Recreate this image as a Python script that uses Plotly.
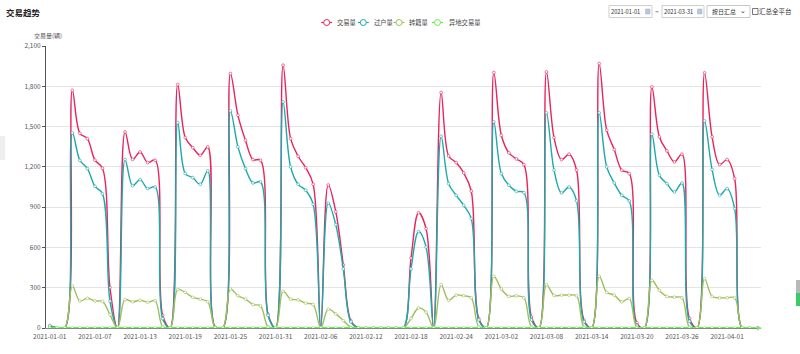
import plotly.graph_objects as go
import pandas as pd

dates = pd.date_range("2021-01-01", periods=95, freq="D").strftime("%Y-%m-%d").tolist()

jiaoyi = [15, 0, 0, 1770, 1450, 1410, 1250, 1190, 300, 0,
          1460, 1256, 1311, 1232, 1249, 94, 0,
          1813, 1418, 1343, 1286, 1348, 5, 0,
          1895, 1584, 1398, 1254, 1249, 102, 0,
          1957, 1410, 1279, 1194, 1070, 0, 1065,
          866, 470, 55, 0, 0, 0, 0, 0, 0, 0,
          520, 858, 740, 0,
          1753, 1281, 1232, 1155, 1020, 70, 0,
          1902, 1435, 1304, 1259, 1217, 82, 0,
          1907, 1418, 1254, 1294, 1175, 57, 0,
          1969, 1473, 1329, 1175, 1150, 40, 0,
          1795, 1423, 1319, 1237, 1294, 70, 0,
          1900, 1423, 1217, 1254, 1112, 0, 0, 0]

guohu = [18, 0, 0, 1453, 1249, 1187, 1055, 1000, 200, 0,
         1254, 1060, 1105, 1038, 1050, 70, 0,
         1530, 1150, 1120, 1070, 1170, 5, 0,
         1617, 1349, 1187, 1080, 1088, 95, 0,
         1684, 1199, 1070, 1026, 921, 0, 930,
         770, 440, 45, 0, 0, 0, 0, 0, 0, 0,
         440, 718, 603, 0,
         1428, 1075, 988, 914, 815, 60, 0,
         1535, 1150, 1063, 1018, 1008, 60, 0,
         1602, 1175, 1006, 1050, 946, 45, 0,
         1602, 1199, 1080, 988, 946, 20, 0,
         1443, 1137, 1075, 1013, 1080, 50, 0,
         1542, 1180, 988, 1038, 889, 0, 0, 0]

zhuanji = [3, 0, 0, 313, 201, 221, 201, 198, 100, 0,
           211, 195, 207, 192, 203, 10, 0,
           286, 265, 228, 215, 195, 0, 0,
           290, 240, 215, 175, 165, 10, 0,
           273, 215, 210, 185, 175, 0, 140,
           105, 55, 5, 0, 0, 0, 0, 0, 0, 0,
           70, 149, 118, 0,
           323, 206, 245, 240, 225, 10, 0,
           385, 290, 236, 240, 225, 10, 0,
           323, 243, 245, 245, 240, 5, 0,
           385, 265, 245, 195, 220, 5, 0,
           355, 280, 235, 230, 225, 5, 0,
           368, 235, 225, 225, 225, 0, 0, 0]

yidi = [0] * 95

series_names = ["交易量", "过户量", "转籍量", "异地交易量"]
series_values = [jiaoyi, guohu, zhuanji, yidi]
colors = ["#e8245c", "#1ea8aa", "#9fbf5a", "#62f046"]
widths = [1.4, 1.4, 1.4, 2.2]

tick_dates = dates[0:91:6]
y_ticks = [0, 300, 600, 900, 1200, 1500, 1800, 2100]

L, R, T, B = 46, 761, 46, 328
W, H = R - L, B - T


def px(x):
    return (x - L) / W


def py(y):
    return (B - y) / H


FONT = "Noto Sans CJK SC, Noto Sans, sans-serif"

fig = go.Figure()
for name, vals, c, w in zip(series_names, series_values, colors, widths):
    fig.add_trace(go.Scatter(
        x=dates, y=vals, name=name, mode="lines+markers",
        line=dict(color=c, width=w, shape="spline", smoothing=1.0),
        marker=dict(symbol="circle", size=2.8, color="white",
                    line=dict(color=c, width=0.6)),
        cliponaxis=True,
    ))

fig.update_layout(
    width=800, height=354,
    margin=dict(l=L, r=800 - R, t=T, b=354 - B, pad=0),
    paper_bgcolor="white", plot_bgcolor="white",
    showlegend=False,
    font=dict(family=FONT, size=6.5, color="#555"),
    xaxis=dict(
        type="date",
        range=["2020-12-31 12:00", "2021-04-05 12:00"],
        tickvals=tick_dates, ticktext=tick_dates,
        showgrid=False, zeroline=False,
        showline=True, linecolor="#888", linewidth=1,
        layer="below traces",
        ticks="outside", ticklen=2, tickcolor="rgba(0,0,0,0)",
        tickfont=dict(size=6.5, color="#555"),
        fixedrange=True,
    ),
    yaxis=dict(
        range=[0, 2100], tickvals=y_ticks, tickformat=",d",
        showgrid=True, gridcolor="#e4e4e4", gridwidth=1,
        zeroline=False, showline=True, linecolor="#555", linewidth=1,
        ticks="outside", ticklen=3, tickcolor="#555",
        tickfont=dict(size=6.5, color="#555"),
        layer="below traces",
    ),
)

shapes = []
ann = []

# title
ann.append(dict(x=px(4), y=py(12), xref="paper", yref="paper", text="<b>交易趋势</b>",
                showarrow=False, xanchor="left", yanchor="middle",
                font=dict(size=8.5, color="#222", family=FONT)))
# y axis name
ann.append(dict(x=px(32), y=py(35.5), xref="paper", yref="paper", text="交易量(辆)",
                showarrow=False, xanchor="left", yanchor="middle",
                font=dict(size=6, color="#555", family=FONT)))

# legend
leg_cx = [326.7, 363.3, 399, 437.5]
leg_tx = [334.5, 371.5, 407, 446.5]
ly = 22.5
for name, c, cx, tx in zip(series_names, colors, leg_cx, leg_tx):
    shapes.append(dict(type="line", xref="paper", yref="paper",
                       x0=px(cx - 5.5), x1=px(cx + 5.5), y0=py(ly), y1=py(ly),
                       line=dict(color=c, width=1.2)))
    shapes.append(dict(type="circle", xref="paper", yref="paper",
                       x0=px(cx - 3), x1=px(cx + 3), y0=py(ly - 3), y1=py(ly + 3),
                       fillcolor="white", line=dict(color=c, width=1)))
    ann.append(dict(x=px(tx), y=py(ly), xref="paper", yref="paper", text=name,
                    showarrow=False, xanchor="left", yanchor="middle",
                    font=dict(size=6.3, color="#444", family=FONT)))

# date inputs
for x0, x1, txt in [(609, 652, "2021-01-01"), (662, 704, "2021-03-31")]:
    shapes.append(dict(type="rect", xref="paper", yref="paper",
                       x0=px(x0), x1=px(x1), y0=py(17.5), y1=py(5.5),
                       fillcolor="white", line=dict(color="#cfcfcf", width=1)))
    shapes.append(dict(type="rect", xref="paper", yref="paper",
                       x0=px(x1 - 6.5), x1=px(x1 - 2), y0=py(14), y1=py(9),
                       fillcolor="#b9c6dc", line=dict(color="#9fb0cc", width=0.5)))
    ann.append(dict(x=px(x0), y=py(11.5), xref="paper", yref="paper", text=txt,
                    showarrow=False, xanchor="left", yanchor="middle",
                    font=dict(size=5.7, color="#333", family=FONT)))
ann.append(dict(x=px(657), y=py(11), xref="paper", yref="paper", text="~",
                showarrow=False, xanchor="center", yanchor="middle",
                font=dict(size=6.5, color="#333", family=FONT)))
# select
shapes.append(dict(type="rect", xref="paper", yref="paper",
                   x0=px(707), x1=px(750), y0=py(17.5), y1=py(5.5),
                   fillcolor="white", line=dict(color="#c8c8c8", width=1)))
ann.append(dict(x=px(710), y=py(11.5), xref="paper", yref="paper", text="按日汇总",
                showarrow=False, xanchor="left", yanchor="middle",
                font=dict(size=6, color="#333", family=FONT)))
ann.append(dict(x=px(743), y=py(10.5), xref="paper", yref="paper", text="⌄",
                showarrow=False, xanchor="center", yanchor="middle",
                font=dict(size=7, color="#333", family="DejaVu Sans")))
# checkbox
shapes.append(dict(type="rect", xref="paper", yref="paper",
                   x0=px(752.5), x1=px(758), y0=py(14.5), y1=py(8.5),
                   fillcolor="white", line=dict(color="#555", width=0.8)))
ann.append(dict(x=px(757), y=py(11.5), xref="paper", yref="paper", text="汇总全平台",
                showarrow=False, xanchor="left", yanchor="middle",
                font=dict(size=6.5, color="#333", family=FONT)))

# x-axis arrow head
shapes.append(dict(type="path", xref="paper", yref="paper",
                   path=f"M {px(757)} {py(325.5)} L {px(762)} {py(328)} L {px(757)} {py(330.5)} Z",
                   fillcolor="#8fd88a", line=dict(width=0)))

# page decorations at edges
shapes.append(dict(type="rect", xref="paper", yref="paper",
                   x0=px(0), x1=px(5), y0=py(160), y1=py(136),
                   fillcolor="#eeeeee", line=dict(width=0)))
shapes.append(dict(type="rect", xref="paper", yref="paper",
                   x0=px(796), x1=px(800), y0=py(293), y1=py(280),
                   fillcolor="#b8b8b8", line=dict(width=0)))
shapes.append(dict(type="rect", xref="paper", yref="paper",
                   x0=px(796), x1=px(800), y0=py(306), y1=py(293),
                   fillcolor="#3ec96a", line=dict(width=0)))

fig.update_layout(shapes=shapes, annotations=ann)
fig.write_html("out.html")
